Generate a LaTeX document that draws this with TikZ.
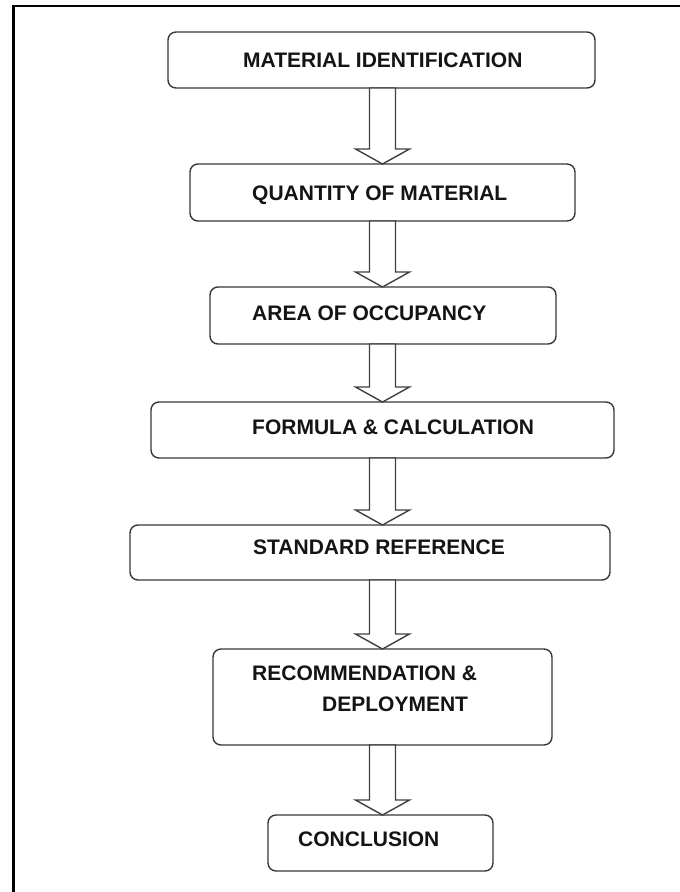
\documentclass[tikz,border=0pt]{standalone}
\usepackage{fontspec}
\setmainfont{Liberation Sans}
\usetikzlibrary{calc}
\tikzset{
  boxnode/.style={draw=black!78, line width=1.4pt, rounded corners=8pt, fill=white,
    inner sep=0pt, outer sep=0pt, anchor=north west},
  lbl/.style={anchor=base west, inner sep=0pt, text=black!92,
    font=\fontsize{21}{31}\selectfont\bfseries, align=left},
  blk/.style={draw=black!75, line width=1.4pt, fill=white, line join=miter},
  frameline/.style={draw=black, line width=2.6pt, line join=miter}
}
\newcommand{\blkarrow}[2]{%
  \draw[blk] ($(#1.south -| ax)+(-13,0)$) -- ($(#2.north -| ax)+(-13,-15)$)
    -- ($(#2.north -| ax)+(-27,-15)$) -- (#2.north -| ax)
    -- ($(#2.north -| ax)+(27,-15)$) -- ($(#2.north -| ax)+(13,-15)$)
    -- ($(#1.south -| ax)+(13,0)$) -- cycle;}
\begin{document}
\begin{tikzpicture}[x=1pt,y=-1pt]
  \useasboundingbox (0,0) rectangle (680,892);
  \fill[white] (0,0) rectangle (680,892);
  % frame (only top and left edges visible)
  \coordinate (fbl) at (13.5,892);
  \coordinate (ftl) at (13.5,6);
  \coordinate (ftr) at (680,6);
  \draw[frameline] (fbl) -- (ftl) -- (ftr);
  % arrow axis
  \coordinate (ax) at (382.5,0);
  % boxes
  \node[boxnode, minimum width=427pt, minimum height=56pt] (b1) at (168,32) {};
  \node[boxnode, minimum width=385pt, minimum height=57pt] (b2) at (190,164) {};
  \node[boxnode, minimum width=346pt, minimum height=57pt] (b3) at (210,287) {};
  \node[boxnode, minimum width=463pt, minimum height=56pt] (b4) at (151,402) {};
  \node[boxnode, minimum width=480pt, minimum height=55pt] (b5) at (130,525) {};
  \node[boxnode, minimum width=339pt, minimum height=96pt] (b6) at (213,649) {};
  \node[boxnode, minimum width=225pt, minimum height=56pt] (b7) at (268,815) {};
  % labels
  \node[lbl] (t1) at (243,67.5) {MATERIAL IDENTIFICATION};
  \node[lbl] (t2) at (252,200) {QUANTITY OF MATERIAL};
  \node[lbl] (t3) at (252,320.5) {AREA OF OCCUPANCY};
  \node[lbl] (t4) at (252,434.5) {FORMULA \& CALCULATION};
  \node[lbl] (t5) at (253,554.5) {STANDARD REFERENCE};
  \node[lbl] (t6) at (252,711.5) {RECOMMENDATION \&\\\hspace*{70pt}DEPLOYMENT};
  \node[lbl] (t7) at (298,846.5) {CONCLUSION};
  % block arrows
  \blkarrow{b1}{b2}
  \blkarrow{b2}{b3}
  \blkarrow{b3}{b4}
  \blkarrow{b4}{b5}
  \blkarrow{b5}{b6}
  \blkarrow{b6}{b7}
\end{tikzpicture}
\end{document}
